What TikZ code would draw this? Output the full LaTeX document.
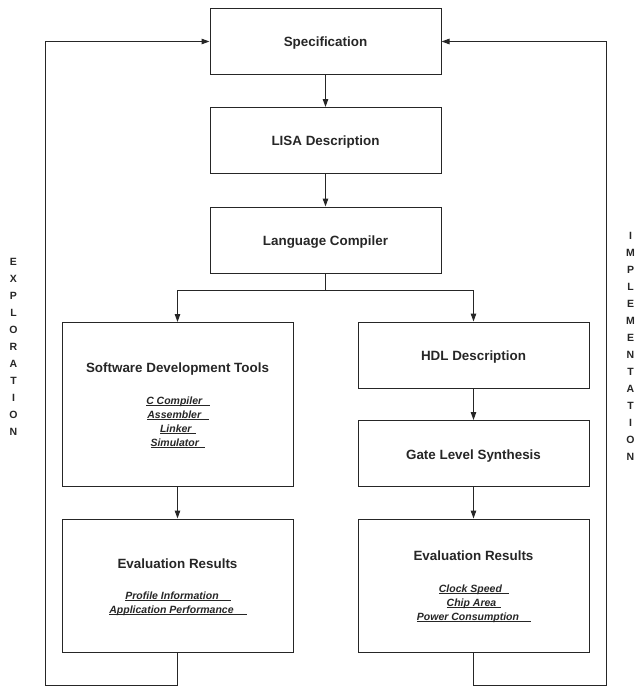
\documentclass[tikz,border=0pt]{standalone}
\usepackage{fontspec}
\setmainfont{Liberation Sans}
\usetikzlibrary{arrows.meta}
\newcommand\ulit[2]{\underline{\smash{\textit{#1}}\hspace{#2}}}
\begin{document}
\begin{tikzpicture}[x=1pt,y=-1pt,
  line width=1pt, draw=black!85,
  box/.style={draw=black!85, line width=1pt, minimum width=231pt, inner sep=0pt},
  ttl/.style={font=\fontsize{13.4}{16}\selectfont\bfseries, text=black!85, anchor=base, inner sep=0pt},
  itm/.style={font=\fontsize{10.5}{13}\selectfont\bfseries, text=black!85, anchor=base, inner sep=0pt},
  side/.style={font=\fontsize{10.5}{17}\selectfont\bfseries, text=black!85, align=center, inner sep=0pt},
  arr/.style={-{Triangle[length=8pt,width=5.5pt]}}]
\useasboundingbox (0,0) rectangle (639,688);

% main column
\node[box, minimum height=66pt] (spec) at (325.5,41.5) {};
\node[ttl] (specT) at (325.5,46.5) {Specification};
\node[box, minimum height=66pt] (lisa) at (325.5,140.5) {};
\node[ttl] (lisaT) at (325.5,145.5) {LISA Description};
\node[box, minimum height=66pt] (lc) at (325.5,240) {};
\node[ttl] (lcT) at (325.5,245) {Language Compiler};

% left branch
\node[box, minimum height=164pt] (sdt) at (177.5,404.5) {};
\node[ttl] (sdtT) at (177.5,372) {Software Development Tools};
\node[itm] (s1) at (178,404) {\ulit{C Compiler}{7pt}};
\node[itm] (s2) at (178,418) {\ulit{Assembler}{7pt}};
\node[itm] (s3) at (178,432) {\ulit{Linker}{4pt}};
\node[itm] (s4) at (178,446) {\ulit{Simulator}{6pt}};

\node[box, minimum height=133pt] (evl) at (177.5,585.5) {};
\node[ttl] (evlT) at (177.5,568) {Evaluation Results};
\node[itm] (e1) at (178,599) {\ulit{Profile Information}{12pt}};
\node[itm] (e2) at (178,613) {\ulit{Application Performance}{13pt}};

% right branch
\node[box, minimum height=66pt] (hdl) at (473.5,355) {};
\node[ttl] (hdlT) at (473.5,360) {HDL Description};
\node[box, minimum height=66pt] (gls) at (473.5,453.5) {};
\node[ttl] (glsT) at (473.5,459) {Gate Level Synthesis};
\node[box, minimum height=133pt] (evr) at (473.5,585.5) {};
\node[ttl] (evrT) at (473.5,560) {Evaluation Results};
\node[itm] (r1) at (474,592) {\ulit{Clock Speed}{7pt}};
\node[itm] (r2) at (474,606) {\ulit{Chip Area}{5pt}};
\node[itm] (r3) at (474,620) {\ulit{Power Consumption}{12pt}};

% side labels
\node[side] (expl) at (13.5,347) {E\\X\\P\\L\\O\\R\\A\\T\\I\\O\\N};
\node[side] (impl) at (630.5,346) {I\\M\\P\\L\\E\\M\\E\\N\\T\\A\\T\\I\\O\\N};

% connectors
\draw[arr] (spec.south) -- (lisa.north);
\draw[arr] (lisa.south) -- (lc.north);
\coordinate (split) at (325.5,290);
\draw (lc.south) -- (split);
\draw[arr] (split) -| (sdt.north);
\draw[arr] (split) -| (hdl.north);
\draw[arr] (sdt.south) -- (evl.north);
\draw[arr] (hdl.south) -- (gls.north);
\draw[arr] (gls.south) -- (evr.north);

\coordinate (lb) at (45,685);
\coordinate (rb) at (606.5,685);
\draw[arr] (evl.south) |- (lb) |- (spec.west);
\draw[arr] (evr.south) |- (rb) |- (spec.east);
\end{tikzpicture}
\end{document}
